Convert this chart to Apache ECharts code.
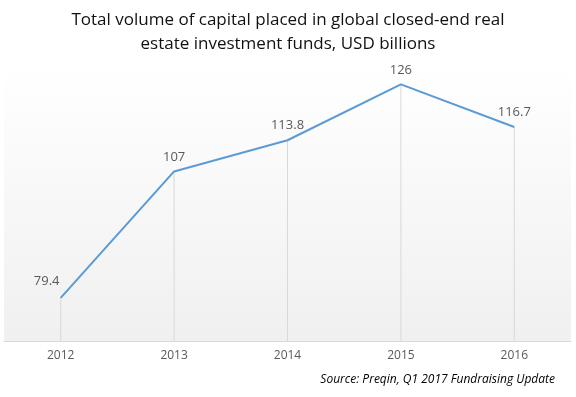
<!DOCTYPE html>
<html>
<head>
  <meta charset="utf-8">
</head>
<body style="margin: 0">
  <div id="container" style="width: 576px; height: 397px"></div>

  <script type="text/javascript" src="https://cdn.jsdelivr.net/npm/echarts@6/dist/echarts.min.js"></script>

  <script type="text/javascript">
    var years = ['2012', '2013', '2014', '2015', '2016'];
    var capital = [79.4, 107, 113.8, 126, 116.7];
    var labelText = ['79.4', '107', '113.8', '126', '116.7'];

    var myChart = echarts.init(document.getElementById('container'), null, { renderer: 'canvas' });

    var option = {
      backgroundColor: '#ffffff',
      title: {
        text: 'Total volume of capital placed in global closed-end real\nestate investment funds, USD billions',
        left: 'center',
        top: 3,
        textStyle: {
          fontFamily: 'Open Sans',
          fontSize: 17,
          fontWeight: 'normal',
          color: '#111111',
          lineHeight: 24
        }
      },
      graphic: [{
        type: 'text',
        right: 21,
        top: 374,
        style: {
          text: 'Source: Preqin, Q1 2017 Fundraising Update',
          font: 'italic 12px "Open Sans"',
          fill: '#000000'
        }
      }],
      grid: {
        left: 4,
        right: 5,
        top: 66,
        bottom: 56,
        show: true,
        borderWidth: 0,
        backgroundColor: new echarts.graphic.LinearGradient(0, 0, 0, 1, [
          { offset: 0, color: '#ffffff' },
          { offset: 1, color: '#f0f0f0' }
        ])
      },
      xAxis: {
        type: 'category',
        data: years,
        boundaryGap: true,
        axisLine: { lineStyle: { color: '#d9d9d9', width: 1 } },
        axisTick: { show: false },
        axisLabel: { color: '#595959', fontSize: 12, fontFamily: 'Open Sans', margin: 9 },
        splitLine: { show: false }
      },
      yAxis: {
        type: 'value',
        min: 70,
        max: 130,
        show: false,
        splitLine: { show: false }
      },
      series: [
        {
          type: 'bar',
          data: capital,
          barWidth: 1,
          itemStyle: { color: '#d9d9d9' },
          silent: true,
          z: 1
        },
        {
          type: 'line',
          data: capital.map(function (v, i) {
            return {
              value: v,
              label: { offset: i === 0 ? [-14, -2] : [0, 0] }
            };
          }),
          showSymbol: true,
          symbol: 'circle',
          symbolSize: 0,
          itemStyle: { color: '#5b9bd5' },
          lineStyle: { color: '#5b9bd5', width: 2 },
          label: {
            show: true,
            position: 'top',
            distance: 8,
            color: '#595959',
            fontSize: 13,
            fontFamily: 'Open Sans',
            formatter: function (p) { return labelText[p.dataIndex]; }
          },
          z: 3
        }
      ]
    };

    myChart.setOption(option);
    window.addEventListener('resize', myChart.resize);
  </script>
</body>
</html>
